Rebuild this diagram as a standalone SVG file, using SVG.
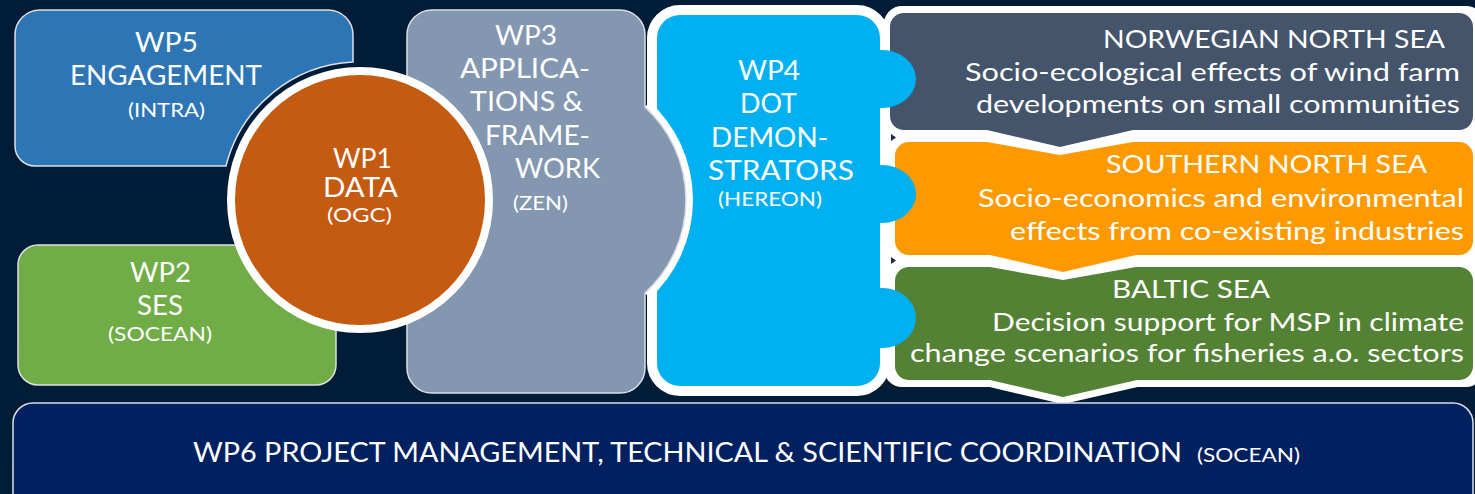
<svg xmlns="http://www.w3.org/2000/svg" width="1475" height="494" viewBox="0 0 1475 494">
<style>
.t{font-family:Lato,"Open Sans","Liberation Sans",sans-serif;fill:#fff}
.h{font-size:26px}
.s{font-size:20px}
.p{font-size:25px}
.thin{stroke:#dcdfe6;stroke-width:1.5}
.pnl{stroke:#fff;stroke-width:14;stroke-linejoin:round;paint-order:stroke}
</style>
<rect x="0" y="0" width="1475" height="494" fill="#011c37"/>

<g id="wp5">
<path class="thin" fill="#2e75b6" d="M 40 10 H 328 A 25 25 0 0 1 353 35 V 62 A 138 138 0 0 0 226 166 H 35 A 20 20 0 0 1 15 146 V 35 A 25 25 0 0 1 40 10 Z"/>
<text class="t h" x="135" y="52" textLength="63" lengthAdjust="spacingAndGlyphs">WP5</text>
<text class="t h" x="70" y="85" textLength="192" lengthAdjust="spacingAndGlyphs">ENGAGEMENT</text>
<text class="t s" x="128" y="117" textLength="77" lengthAdjust="spacingAndGlyphs">(INTRA)</text>
</g>

<g id="wp2">
<rect class="thin" x="18" y="245" width="318" height="140" rx="20" fill="#70ad47"/>
<text class="t h" x="130" y="282" textLength="61" lengthAdjust="spacingAndGlyphs">WP2</text>
<text class="t h" x="137" y="315" textLength="46" lengthAdjust="spacingAndGlyphs">SES</text>
<text class="t s" x="108" y="341" textLength="104" lengthAdjust="spacingAndGlyphs">(SOCEAN)</text>
</g>

<g id="regions">
<rect x="884" y="6" width="600" height="381" rx="18" fill="#fff"/>
<g id="norwegian">
<path class="pnl" fill="#44546a" d="M 904 13 H 1459 A 14 14 0 0 1 1473 27 V 116 A 14 14 0 0 1 1459 130 H 1133 L 1060 147 L 987 130 H 904 A 14 14 0 0 1 890 116 V 27 A 14 14 0 0 1 904 13 Z"/>
<text class="t p" x="1103" y="48" textLength="342" lengthAdjust="spacingAndGlyphs">NORWEGIAN NORTH SEA</text>
<text class="t p" x="965" y="81" textLength="495" lengthAdjust="spacingAndGlyphs">Socio-ecological effects of wind farm</text>
<text class="t p" x="976" y="113" textLength="484" lengthAdjust="spacingAndGlyphs">developments on small communities</text>
</g>
<g id="southern">
<path class="pnl" fill="#fe9a00" d="M 909 142 H 987 L 1060 155 L 1133 142 H 1459 A 14 14 0 0 1 1473 156 V 241 A 14 14 0 0 1 1459 255 H 1136 L 1063 272 L 990 255 H 909 A 14 14 0 0 1 895 241 V 156 A 14 14 0 0 1 909 142 Z"/>
<text class="t p" x="1106" y="173" textLength="321" lengthAdjust="spacingAndGlyphs">SOUTHERN NORTH SEA</text>
<text class="t p" x="978" y="207" textLength="486" lengthAdjust="spacingAndGlyphs">Socio-economics and environmental</text>
<text class="t p" x="1010" y="240" textLength="454" lengthAdjust="spacingAndGlyphs">effects from co-existing industries</text>
</g>
<g id="baltic">
<path class="pnl" fill="#548235" d="M 909 267 H 990 L 1063 280 L 1136 267 H 1459 A 14 14 0 0 1 1473 281 V 366 A 14 14 0 0 1 1459 380 H 1137 L 1063 397 L 990 380 H 909 A 14 14 0 0 1 895 366 V 281 A 14 14 0 0 1 909 267 Z"/>
<text class="t p" x="1112" y="298" textLength="158" lengthAdjust="spacingAndGlyphs">BALTIC SEA</text>
<text class="t p" x="992" y="331" textLength="472" lengthAdjust="spacingAndGlyphs">Decision support for MSP in climate</text>
<text class="t p" x="910" y="362" textLength="554" lengthAdjust="spacingAndGlyphs">change scenarios for fisheries a.o. sectors</text>
</g>
</g>

<g id="connectors">
<polygon points="891,134 896,137.5 891,141" fill="#1b2a4a"/>
<polygon points="891,257 896,260.5 891,264" fill="#1b2a4a"/>
</g>

<g id="wp4">
<rect x="652" y="10" width="233" height="381" rx="28" fill="#00b0f0" stroke="#fff" stroke-width="10"/>
<ellipse cx="882" cy="79" rx="34" ry="29" fill="#00b0f0"/>
<ellipse cx="882" cy="194" rx="34" ry="29" fill="#00b0f0"/>
<ellipse cx="882" cy="318" rx="34" ry="30" fill="#00b0f0"/>
<text class="t h" x="738" y="80" textLength="62" lengthAdjust="spacingAndGlyphs">WP4</text>
<text class="t h" x="740" y="113" textLength="57" lengthAdjust="spacingAndGlyphs">DOT</text>
<text class="t h" x="711" y="147" textLength="117" lengthAdjust="spacingAndGlyphs">DEMON-</text>
<text class="t h" x="708" y="180" textLength="146" lengthAdjust="spacingAndGlyphs">STRATORS</text>
<text class="t s" x="718" y="206" textLength="104" lengthAdjust="spacingAndGlyphs">(HEREON)</text>
</g>

<g id="wp3">
<path d="M 645 107 A 126 126 0 0 1 645 293" fill="none" stroke="#fff" stroke-width="14"/>
<path class="thin" fill="#8497b0" d="M 432 10 H 620 A 25 25 0 0 1 645 35 V 107 A 126 126 0 0 1 645 293 V 368 A 25 25 0 0 1 620 393 H 432 A 25 25 0 0 1 407 368 V 35 A 25 25 0 0 1 432 10 Z"/>
<text class="t h" x="495" y="45" textLength="62" lengthAdjust="spacingAndGlyphs">WP3</text>
<text class="t h" x="460" y="78" textLength="130" lengthAdjust="spacingAndGlyphs">APPLICA-</text>
<text class="t h" x="470" y="111" textLength="113" lengthAdjust="spacingAndGlyphs">TIONS &amp;</text>
<text class="t h" x="485" y="145" textLength="105" lengthAdjust="spacingAndGlyphs">FRAME-</text>
<text class="t h" x="515" y="178" textLength="85" lengthAdjust="spacingAndGlyphs">WORK</text>
<text class="t s" x="513" y="210" textLength="55" lengthAdjust="spacingAndGlyphs">(ZEN)</text>
</g>

<g id="wp1">
<circle cx="360" cy="200" r="129" fill="#c55a11" stroke="#fff" stroke-width="8"/>
<text class="t h" x="333" y="168" textLength="59" lengthAdjust="spacingAndGlyphs">WP1</text>
<text class="t h" x="323" y="197" textLength="75" lengthAdjust="spacingAndGlyphs">DATA</text>
<text class="t s" x="327" y="222" textLength="65" lengthAdjust="spacingAndGlyphs">(OGC)</text>
</g>

<g id="wp6">
<rect class="thin" x="13" y="403" width="1460" height="120" rx="20" fill="#002060"/>
<text class="t h" x="193" y="462" textLength="989" lengthAdjust="spacingAndGlyphs">WP6 PROJECT MANAGEMENT, TECHNICAL &amp; SCIENTIFIC COORDINATION</text>
<text class="t s" x="1197" y="462" textLength="103" lengthAdjust="spacingAndGlyphs">(SOCEAN)</text>
</g>
</svg>
